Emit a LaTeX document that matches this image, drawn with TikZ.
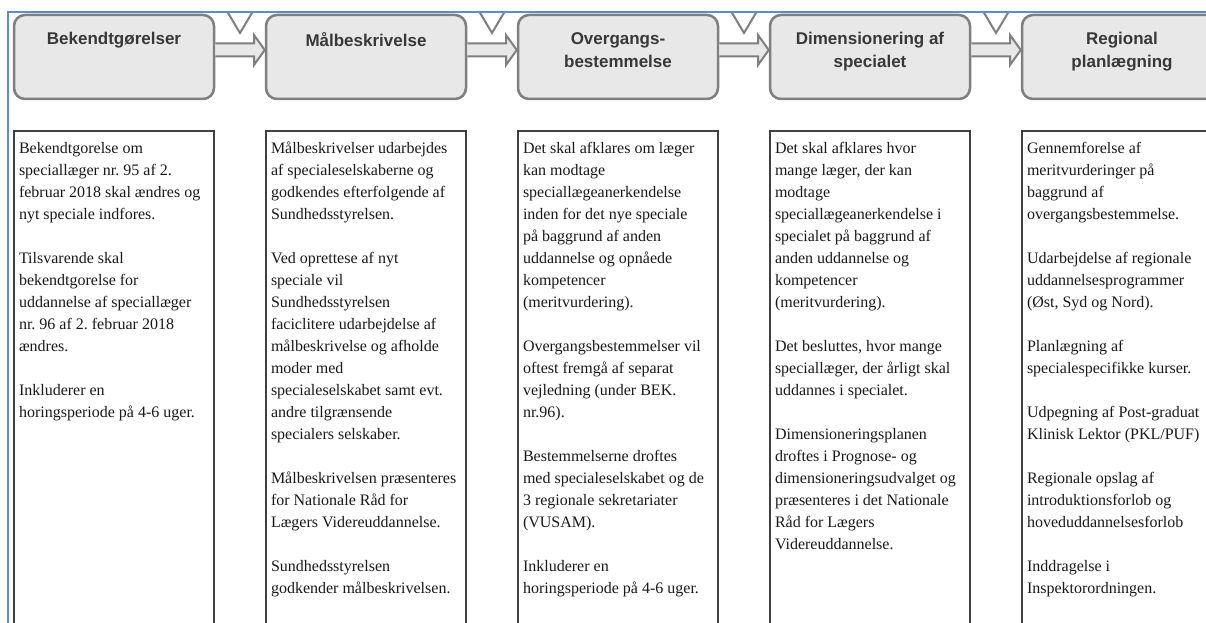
\documentclass[tikz,border=0pt]{standalone}
\usepackage{fontspec}
\setmainfont{Liberation Serif}
\newfontfamily\headfont{Liberation Sans}
\usetikzlibrary{positioning,calc}
\frenchspacing

\definecolor{framebl}{HTML}{5B8BD0}
\definecolor{boxgray}{HTML}{7F7F7F}
\definecolor{boxfill}{HTML}{E8E8E8}
\definecolor{headtext}{HTML}{383838}

\newcommand{\headlbl}[1]{\parbox[c][48.8pt][t]{190pt}{\centering\headfont\bfseries\fontsize{17}{23}\selectfont #1}}
\newcommand{\colbody}[1]{\parbox[c][500pt][t]{190pt}{\raggedright\fontsize{16}{22}\selectfont\strut #1}}

\begin{document}
\begin{tikzpicture}[x=1pt,y=-1pt,node distance=52pt,
    head/.style={draw=boxgray,line width=2.5pt,fill=boxfill,rounded corners=11pt,inner xsep=5pt,inner ysep=17.6pt,outer sep=0pt,text=headtext},
    body/.style={draw=black!75,line width=1.2pt,inner xsep=5pt,inner ysep=6.6pt,outer sep=0pt,text=black!90},
    blockarrow/.style={draw=boxgray,line width=2pt,fill=boxfill,line join=miter},
    notch/.style={draw=boxgray,line width=2pt,fill=white}]
  \useasboundingbox (0,0) rectangle (1206,623);
  \clip (0,0) rectangle (1206,623);
  \node[head] (bek) at (114,57) {\headlbl{Bekendtgørelser}};
  \node[head,right=of bek] (maal) {\headlbl{Målbeskrivelse}};
  \node[head,right=of maal] (overg) {\headlbl{Overgangs-\\bestemmelse}};
  \node[head,right=of overg] (dim) {\headlbl{Dimensionering af\\specialet}};
  \node[head,right=of dim] (reg) {\headlbl{Regional\\planlægning}};
  \node[body,below=32pt of bek] (bekTxt) {\colbody{Bekendtgorelse om\\speciallæger nr. 95 af 2.\\februar 2018 skal ændres og\\nyt speciale indfores.\\[22pt]
    Tilsvarende skal\\bekendtgorelse for\\uddannelse af speciallæger\\nr. 96 af 2. februar 2018\\ændres.\\[22pt]
    Inkluderer en\\horingsperiode på 4-6 uger.}};
  \node[body,below=32pt of maal] (maalTxt) {\colbody{Målbeskrivelser udarbejdes\\af specialeselskaberne og\\godkendes efterfolgende af\\Sundhedsstyrelsen.\\[22pt]
    Ved oprettese af nyt\\speciale vil\\Sundhedsstyrelsen\\faciclitere udarbejdelse af\\målbeskrivelse og afholde\\moder med\\specialeselskabet samt evt.\\andre tilgrænsende\\specialers selskaber.\\[22pt]
    Målbeskrivelsen præsenteres\\for Nationale Råd for\\Lægers Videreuddannelse.\\[22pt]
    Sundhedsstyrelsen\\godkender målbeskrivelsen.}};
  \node[body,below=32pt of overg] (overgTxt) {\colbody{Det skal afklares om læger\\kan modtage\\speciallægeanerkendelse\\inden for det nye speciale\\på baggrund af anden\\uddannelse og opnåede\\kompetencer\\(meritvurdering).\\[22pt]
    Overgangsbestemmelser vil\\oftest fremgå af separat\\vejledning (under BEK.\\nr.96).\\[22pt]
    Bestemmelserne droftes\\med specialeselskabet og de\\3 regionale sekretariater\\(VUSAM).\\[22pt]
    Inkluderer en\\horingsperiode på 4-6 uger.}};
  \node[body,below=32pt of dim] (dimTxt) {\colbody{Det skal afklares hvor\\mange læger, der kan\\modtage\\speciallægeanerkendelse i\\specialet på baggrund af\\anden uddannelse og\\kompetencer\\(meritvurdering).\\[22pt]
    Det besluttes, hvor mange\\speciallæger, der årligt skal\\uddannes i specialet.\\[22pt]
    Dimensioneringsplanen\\droftes i Prognose- og\\dimensioneringsudvalget og\\præsenteres i det Nationale\\Råd for Lægers\\Videreuddannelse.}};
  \node[body,below=32pt of reg] (regTxt) {\colbody{Gennemforelse af\\meritvurderinger på\\baggrund af\\overgangsbestemmelse.\\[22pt]
    Udarbejdelse af regionale\\uddannelsesprogrammer\\(Øst, Syd og Nord).\\[22pt]
    Planlægning af\\specialespecifikke kurser.\\[22pt]
    Udpegning af Post-graduat\\Klinisk Lektor (PKL/PUF)\\[22pt]
    Regionale opslag af\\introduktionsforlob og\\hoveduddannelsesforlob\\[22pt]
    Inddragelse i\\Inspektorordningen.}};
  % block arrows with notch above
  \foreach \a/\b in {bek/maal,maal/overg,overg/dim,dim/reg}{
    \coordinate (m) at ($(\a.east)!0.5!(\b.west)$);
    \draw[notch] ($(m)+(-12.5,-45)$) -- ($(m)+(0,-24)$) -- ($(m)+(12.5,-45)$);
    \draw[blockarrow] ($(\a.east)+(1.25,-13.5)$) -- ($(\b.west)+(-12,-13.5)$) -- ($(\b.west)+(-12,-22)$)
      -- ($(\b.west)+(-1.25,-7)$) -- ($(\b.west)+(-12,8)$) -- ($(\b.west)+(-12,-0.5)$) -- ($(\a.east)+(1.25,-0.5)$);
  }
  \draw[framebl,line width=1.5pt] (8,623) -- (8,12) -- (1206,12);
\end{tikzpicture}
\end{document}
